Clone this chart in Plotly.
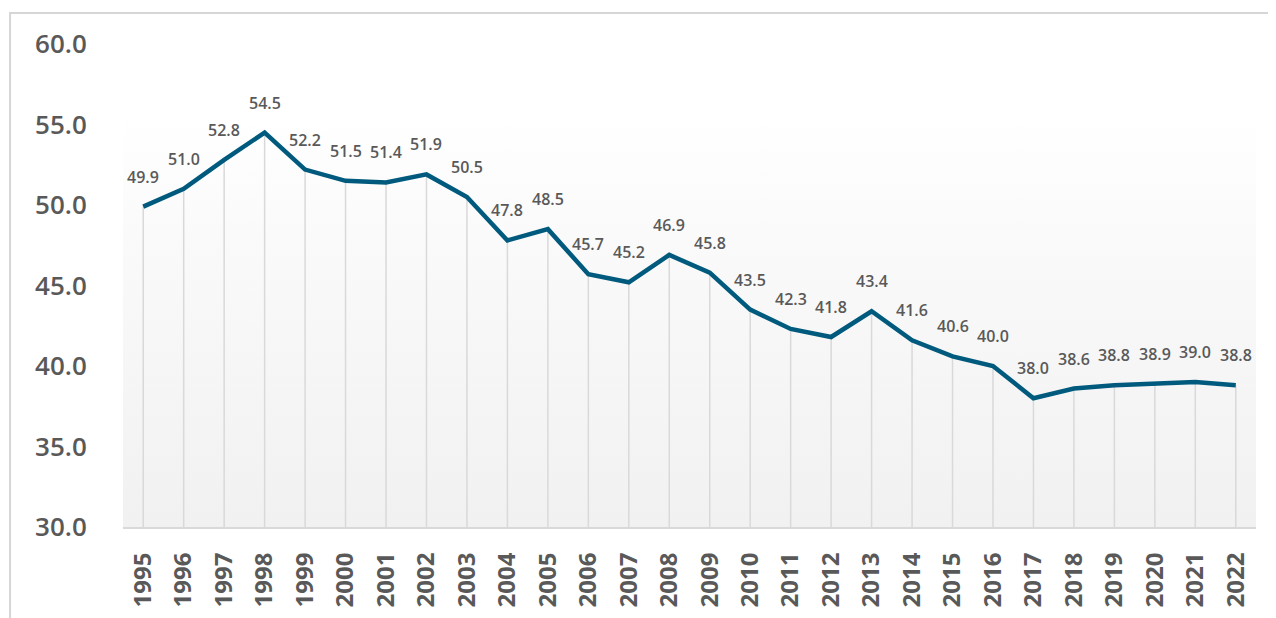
import plotly.graph_objects as go

anos = list(range(1995, 2023))
valores = [49.9, 51.0, 52.8, 54.5, 52.2, 51.5, 51.4, 51.9, 50.5, 47.8,
           48.5, 45.7, 45.2, 46.9, 45.8, 43.5, 42.3, 41.8, 43.4, 41.6,
           40.6, 40.0, 38.0, 38.6, 38.8, 38.9, 39.0, 38.8]
y_ticks = [30, 35, 40, 45, 50, 55, 60]

LINHA = "#005A7D"
TEXTO = "#595959"
GRADE = "#D9D9D9"
FONTE = "Open Sans, 'Noto Sans', sans-serif"

Y_MIN, Y_MAX = 30, 60
X_MIN, X_MAX = anos[0] - 0.5, anos[-1] + 0.5

fig = go.Figure()

# fundo do plot em degradê (branco em cima, cinza claro embaixo)
fig.add_trace(go.Scatter(
    x=[X_MIN, X_MAX, X_MAX, X_MIN, X_MIN],
    y=[Y_MIN, Y_MIN, Y_MAX, Y_MAX, Y_MIN],
    mode="lines", line=dict(width=0),
    fill="toself",
    fillgradient=dict(
        type="vertical", start=Y_MIN, stop=Y_MAX,
        colorscale=[[0, "#F1F1F1"], [0.6, "#FAFAFA"], [0.85, "#FFFFFF"], [1, "#FFFFFF"]],
    ),
    hoverinfo="skip", showlegend=False,
))

# linhas verticais de cada ponto até a base
xs, ys = [], []
for a, v in zip(anos, valores):
    xs += [a, a, None]
    ys += [v, Y_MIN, None]
fig.add_trace(go.Scatter(
    x=xs, y=ys, mode="lines",
    line=dict(color=GRADE, width=1.5),
    hoverinfo="skip", showlegend=False,
))

fig.add_trace(go.Scatter(
    x=anos, y=valores, mode="lines",
    line=dict(color=LINHA, width=4.5),
    hovertemplate="%{x}: %{y:.1f}<extra></extra>",
    showlegend=False,
))

for a, v in zip(anos, valores):
    fig.add_annotation(
        x=a, y=v, text=f"{v:.1f}", showarrow=False, yshift=30,
        font=dict(family=FONTE, size=16, color=TEXTO, weight=600),
    )

# moldura externa (só topo e esquerda aparecem)
fig.add_shape(
    type="rect", xref="paper", yref="paper",
    x0=-0.0997, x1=1.2, y0=-0.3, y1=1.064,
    line=dict(color="#D6D6D6", width=2), fillcolor="rgba(0,0,0,0)",
)

# a página tem 8px de margem do body: compensa no tamanho/margens
fig.update_layout(
    width=1268, height=610,
    paper_bgcolor="white", plot_bgcolor="white",
    margin=dict(l=115, r=20, t=36, b=91),
    font=dict(family=FONTE, color=TEXTO),
    xaxis=dict(
        range=[X_MIN, X_MAX], tickvals=anos, ticktext=[str(a) for a in anos],
        tickangle=-90, showgrid=False, zeroline=False,
        showline=True, linecolor=GRADE, linewidth=2,
        ticks="outside", ticklen=14, tickcolor="rgba(0,0,0,0)",
        tickfont=dict(family=FONTE, size=24, color=TEXTO, weight="bold"),
        automargin=False,
    ),
    yaxis=dict(
        range=[Y_MIN, Y_MAX], tickvals=y_ticks,
        ticktext=[f"{t:.1f}" for t in y_ticks],
        showgrid=False, zeroline=False, showline=False,
        ticks="outside", ticklen=30, tickcolor="rgba(0,0,0,0)",
        tickfont=dict(family=FONTE, size=26, color=TEXTO, weight=600),
        automargin=False,
    ),
)

fig.write_html("out.html")
